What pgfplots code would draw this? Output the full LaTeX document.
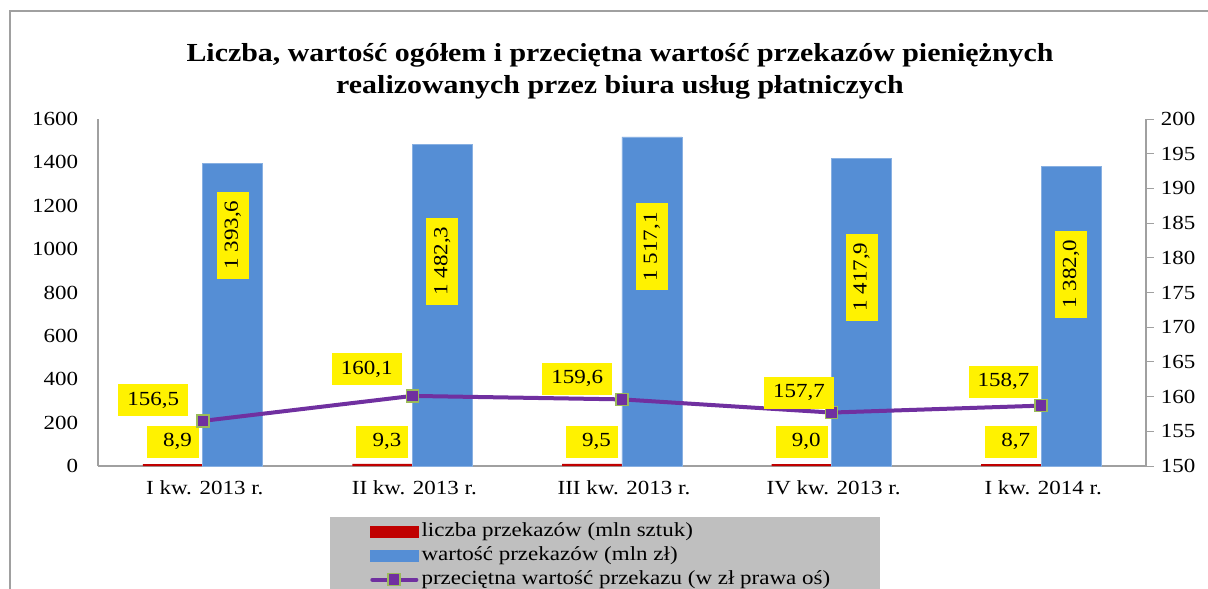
\documentclass[border=0pt]{standalone}
\usepackage{fontspec}
\setmainfont{Liberation Serif}[FakeStretch=1.15]
\usepackage{pgfplots}
\pgfplotsset{compat=1.18}
\usepackage{pgfplotstable}
\definecolor{barred}{HTML}{C00000}
\definecolor{barblue}{HTML}{558ED5}
\definecolor{linepurple}{HTML}{7030A0}
\definecolor{markgreen}{HTML}{9BBB59}
\definecolor{axgray}{HTML}{A0A0A0}
\definecolor{leggray}{HTML}{BFBFBF}

\pgfplotstableread{
x liczba wartosc srednia dx dy lpos
0 8.9 1393.6 156.5 -14 4 1065
1 9.3 1482.3 160.1 -10 10 945
2 9.5 1517.1 159.6 -9 4 1010
3 9.0 1417.9 157.7 3 3 871
4 8.7 1382.0 158.7 -2 7 885
}\data

\tikzset{
  lab/.style={fill=yellow, inner xsep=9pt, inner ysep=7pt, text height=14pt, text depth=4pt, font=\fontsize{20}{24}\selectfont, text=black},
}
\pgfplotsset{
  numlab/.style={nodes near coords={\pgfmathprintnumber[use comma,fixed,fixed zerofill,precision=1,1000 sep={\ },assume math mode=true]{\pgfplotspointmeta}}},
}

\begin{document}
\fontsize{20}{24}\selectfont
\begin{tikzpicture}
\useasboundingbox (0,0) rectangle (1208pt,-589pt);
\draw[axgray, line width=1.2pt] (10pt,-589pt) -- (10pt,-11pt) -- (1208pt,-11pt);
\node[font=\bfseries\fontsize{26}{32}\selectfont, align=center] at (620pt,-71pt) {Liczba, wartość ogółem i przeciętna wartość przekazów pieniężnych\\realizowanych przez biura usług płatniczych};
\fill[leggray] (330pt,-517pt) rectangle (880pt,-589pt);

\begin{axis}[
  at={(98pt,-466pt)}, anchor=south west, scale only axis,
  width=1048pt, height=347pt,
  xmin=-0.5, xmax=4.5, ymin=0, ymax=1600,
  xtick={0,...,4},
  xticklabels={I kw. 2013 r., II kw. 2013 r., III kw. 2013 r., IV kw. 2013 r., I kw. 2014 r.},
  ytick={0,200,...,1600},
  axis x line*=bottom, axis y line*=left,
  x axis line style={axgray, line width=1.2pt, -},
  y axis line style={axgray, line width=1.2pt, -},
  major tick length=0pt,
  xticklabel style={yshift=-8pt, xshift=2pt},
  yticklabel style={xshift=-13pt},
  /pgf/number format/assume math mode=true,
  /pgf/number format/1000 sep={},
  tick label style={font=\fontsize{20}{24}\selectfont},
  clip=false,
]
\addplot[ybar, bar width=0.286, bar shift=-0.143, fill=barred, draw=none,
  numlab, every node near coord/.append style={lab, inner xsep=7pt, text width=38pt, align=right, yshift=6pt, xshift=-30pt}]
  table[x=x, y=liczba]{\data};
\addplot[ybar, bar width=0.286, bar shift=0.143, fill=barblue, draw=barblue!70!white, line width=0.6pt]
  table[x=x, y=wartosc]{\data};
\addplot[draw=none, mark=none, forget plot, numlab, point meta=\thisrow{wartosc},
  every node near coord/.append style={lab, rotate=90, anchor=center}]
  table[x expr=\thisrow{x}+0.143, y=lpos]{\data};
\end{axis}

\begin{axis}[
  at={(98pt,-466pt)}, anchor=south west, scale only axis,
  width=1048pt, height=347pt,
  xmin=-0.5, xmax=4.5, ymin=150, ymax=200,
  ytick={150,155,...,200},
  axis y line*=right, axis x line=none,
  y axis line style={axgray, line width=1.2pt, -},
  tick align=outside, major tick length=8pt,
  tick style={axgray, line width=1pt},
  /pgf/number format/assume math mode=true,
  tick label style={font=\fontsize{20}{24}\selectfont},
  clip=false,
  legend style={at={(axis description cs:0.2595,-0.1542)}, anchor=north west,
    fill=none, draw=none, inner sep=0pt, row sep=0pt,
    font=\fontsize{20}{24}\selectfont,
    nodes={inner ysep=2pt, inner xsep=3pt, text height=15pt, text depth=5pt}},
  legend cell align=left,
]
\addlegendimage{legend image code/.code={\fill[barred] (0pt,-5.5pt) rectangle (48pt,5.5pt);}}
\addlegendentry{liczba przekazów (mln sztuk)}
\addlegendimage{legend image code/.code={\fill[barblue] (0pt,-5.5pt) rectangle (48pt,5.5pt);}}
\addlegendentry{wartość przekazów (mln zł)}
\addplot[linepurple, line width=4pt, mark=square*, mark size=6pt,
  mark options={fill=linepurple, draw=markgreen, line width=1.5pt},
  legend image code/.code={\draw[linepurple, line width=4pt, line cap=round] (2pt,0pt) -- (46pt,0pt);
    \draw[markgreen, fill=linepurple, line width=1.5pt] (17.5pt,-6pt) rectangle (29.5pt,6pt);},
  numlab,
  visualization depends on={\thisrow{dx} \as \dx},
  visualization depends on={\thisrow{dy} \as \dy},
  every node near coord/.append style={lab, anchor=south east, xshift=\dx pt, yshift=\dy pt}]
  table[x=x, y=srednia]{\data};
\addlegendentry{przeciętna wartość przekazu (w zł prawa oś)}
\end{axis}
\end{tikzpicture}
\end{document}
